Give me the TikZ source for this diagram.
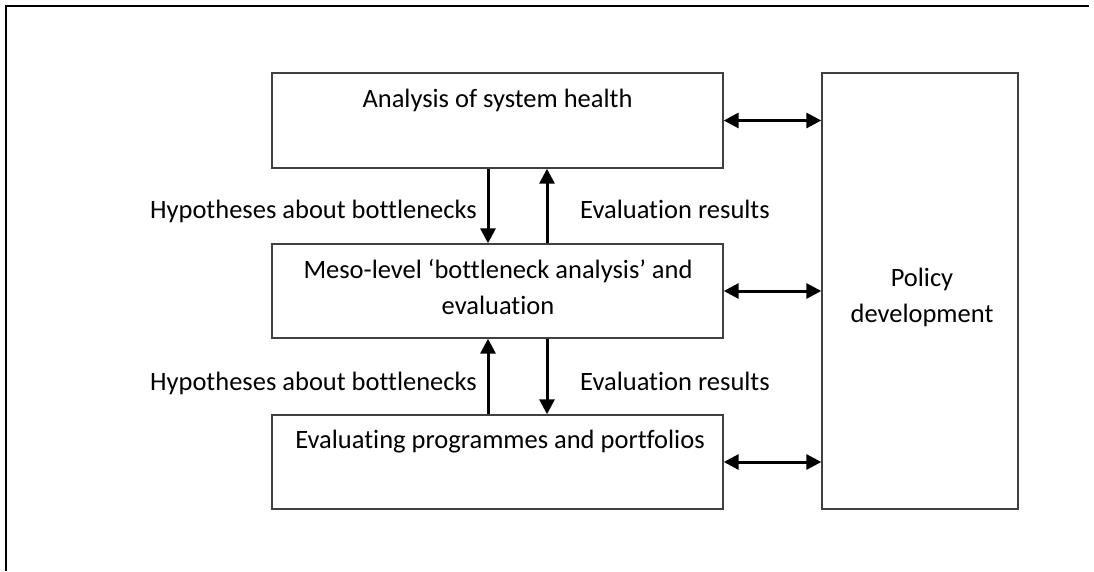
\documentclass[tikz,border=0pt]{standalone}
\usepackage{fontspec}
\setmainfont{Carlito}[Ligatures=NoCommon]
\usepackage{tikz}
\usetikzlibrary{arrows.meta,positioning}
\definecolor{edgec}{RGB}{64,64,64}
\tikzset{
  box/.style={rectangle,draw=edgec,line width=1.4pt,fill=white,inner sep=0pt},
  txt/.style={font=\fontsize{26.5}{36}\selectfont,align=center,inner sep=0pt},
  lbl/.style={font=\fontsize{26.5}{36}\selectfont,inner sep=0pt},
  arr/.style={-{Triangle[length=15pt,width=15pt]},line width=3pt,black},
  darr/.style={{Triangle[length=15pt,width=15pt]}-{Triangle[length=15pt,width=15pt]},line width=3pt,black},
}
\begin{document}
\begin{tikzpicture}[x=1pt,y=-1pt]
  \useasboundingbox (0,0) rectangle (1094,571);
  % frame
  \draw[line width=1.6pt,black] (6,571) -- (6,6) -- (1089,6);
  % boxes
  \node[box,minimum width=451pt,minimum height=95pt](health) at (497.5,120.5){};
  \node[box,minimum width=451pt,minimum height=94pt](meso) at (497.5,291){};
  \node[box,minimum width=451pt,minimum height=94pt](prog) at (497.5,462){};
  \node[box,minimum width=196pt,minimum height=436pt](policy) at (920,291){};
  \node[txt,anchor=base](thealth) at (497.5,107){Analysis of system health};
  \node[txt,anchor=base](tmeso) at (498,314){Meso-level ‘bottleneck analysis’ and\\evaluation};
  \node[txt,anchor=base](tprog) at (500,448){Evaluating programmes and portfolios};
  \node[txt,anchor=base](tpolicy) at (922,322){Policy\\development};
  % vertical links
  \draw[arr]([xshift=-9.5pt]health.south) -- ([xshift=-9.5pt]meso.north);
  \draw[arr]([xshift=49.5pt]meso.north) -- ([xshift=49.5pt]health.south);
  \draw[arr]([xshift=-9.5pt]prog.north) -- ([xshift=-9.5pt]meso.south);
  \draw[arr]([xshift=49.5pt]meso.south) -- ([xshift=49.5pt]prog.north);
  \node[lbl,anchor=base east](hyp1) at (477,218){Hypotheses about bottlenecks};
  \node[lbl,anchor=base west](eval1) at (580,218){Evaluation results};
  \node[lbl,anchor=base east](hyp2) at (477,390){Hypotheses about bottlenecks};
  \node[lbl,anchor=base west](eval2) at (580,390){Evaluation results};
  % links to policy
  \foreach \b in {health,meso,prog}{
    \draw[darr](\b.east) -- (\b.east -| policy.west);}
\end{tikzpicture}
\end{document}
